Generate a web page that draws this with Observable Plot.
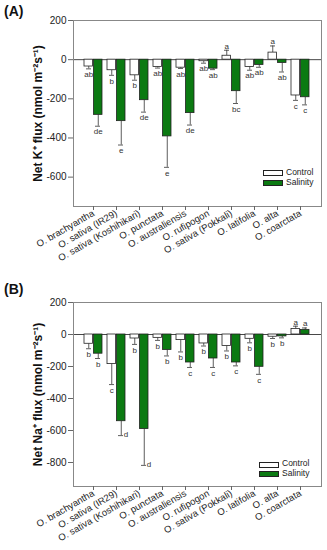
<!DOCTYPE html>
<html><head><meta charset="utf-8">
<script src="https://cdn.jsdelivr.net/npm/d3@7"></script>
<script src="https://cdn.jsdelivr.net/npm/@observablehq/plot@0.6"></script>
<style>
body{margin:0;background:#fff;font-family:"Liberation Sans",Arial,sans-serif;}
#wrap{position:relative;width:327px;height:550px;overflow:hidden;}
.panel{position:absolute;left:0;width:327px;}
.tag{position:absolute;font-weight:bold;font-size:14px;color:#111;line-height:14px;}
.lg{position:absolute;font-size:8.5px;color:#222;line-height:9px;white-space:nowrap;}
.sw{position:absolute;width:18px;height:4px;border:0.8px solid #222;}
</style></head><body><div id="wrap"></div>
<script>
const species = ["O. brachyantha","O. sativa (IR29)","O. sativa (Koshihikari)","O. punctata","O. australiensis","O. rufipogon","O. sativa (Pokkali)","O. latifolia","O. alta","O. coarctata"];
const groups = ["Control","Salinity"];

// Panel A: Net K+ flux
const kControl = [-35, -54, -80, -37, -41, -8, 20, -37, 36, -183];
const kControlErr = [12, 26, 25, 6, 4, 10, 28, 17, 34, 25];
const kControlLetters = ["ab","b","b","ab","ab","ab","a","ab","a","c"];
const kSalinity = [-282, -314, -207, -392, -273, -46, -161, -27, -17, -192];
const kSalinityErr = [58, 122, 61, 158, 61, 5, 63, 12, 46, 39];
const kSalinityLetters = ["de","e","de","e","de","ab","bc","ab","ab","c"];
const kTicks = [200, 0, -200, -400, -600];

// Panel B: Net Na+ flux
const nControl = [-58, -185, -25, -21, -35, -56, -72, -27, -14, 35];
const nControlErr = [31, 128, 37, 16, 74, 16, 31, 25, 11, 17];
const nControlLetters = ["b","c","b","b","b","b","b","b","b","a"];
const nSalinity = [-120, -542, -591, -97, -175, -150, -175, -202, -12, 29];
const nSalinityErr = [30, 90, 227, 37, 31, 56, 21, 47, 9, 12];
const nSalinityLetters = ["b","d","d","b","c","c","c","c","b","a"];
const nTicks = [200, 0, -200, -400, -600, -800];

const GREEN = "#0b7a12";
const FONT = "'Liberation Sans', Arial, sans-serif";

function rows(vals, errs, letters, group) {
  return species.map((s, i) => ({species: s, group, value: vals[i], err: errs[i], letter: letters[i],
    end: vals[i] + (vals[i] >= 0 ? 1 : -1) * errs[i]}));
}

function letterMarks(data, dx, side) {
  const key = d => d.species + "|" + d.group;
  const neg = data.filter(d => d.value < 0 && !side.has(key(d)));
  const pos = data.filter(d => d.value >= 0);
  const sd = data.filter(d => side.has(key(d)));
  const base = {x: "species", y: "end", text: "letter", fontSize: 8, fill: "#333"};
  return [
    Plot.text(neg, {...base, dx, dy: 2.5, lineAnchor: "top"}),
    Plot.text(pos, {...base, dx, dy: -1.5, lineAnchor: "bottom"}),
    Plot.text(sd, {...base, dx: dx + 2.5, dy: -1, textAnchor: "start", lineAnchor: "middle"})
  ];
}

function panel(cfg) {
  const c = rows(cfg.control, cfg.controlErr, cfg.controlLetters, "Control");
  const s = rows(cfg.salinity, cfg.salinityErr, cfg.salinityLetters, "Salinity");
  const side = new Set(cfg.sideLabels || []);
  const hb = 9.5;
  return Plot.plot({
    width: 327, height: cfg.height,
    marginLeft: 73, marginRight: 6, marginTop: cfg.marginTop, marginBottom: 64,
    style: {fontFamily: FONT, fontSize: "10px", color: "#222", background: "white"},
    x: {type: "band", domain: species, paddingInner: 0.2, paddingOuter: 0.33, label: null},
    y: {domain: cfg.yDomain, label: null},
    marks: [
      Plot.ruleY([0], {stroke: "#333", strokeWidth: 0.9}),
      Plot.ruleX(c, {x: "species", y1: "value", y2: "end", dx: -4.75, stroke: "#333", strokeWidth: 0.8}),
      Plot.tickY(c, {x: "species", y: "end", insetLeft: 2, insetRight: 11, stroke: "#333", strokeWidth: 0.8}),
      Plot.ruleX(s, {x: "species", y1: "value", y2: "end", dx: 4.75, stroke: "#333", strokeWidth: 0.8}),
      Plot.tickY(s, {x: "species", y: "end", insetLeft: 11, insetRight: 2, stroke: "#333", strokeWidth: 0.8}),
      Plot.barY(c, {x: "species", y1: 0, y2: "value", insetRight: hb, fill: "white", stroke: "#222", strokeWidth: 0.8}),
      Plot.barY(s, {x: "species", y1: 0, y2: "value", insetLeft: hb, fill: GREEN, stroke: "#222", strokeWidth: 0.8}),
      ...letterMarks(c, -4.75, side),
      ...letterMarks(s, 4.75, side),
      Plot.frame({stroke: "#888", strokeWidth: 1}),
      Plot.axisY({ticks: cfg.ticks, tickFormat: d => String(d).replace("\u2212", "-"), tickSize: 5, tickPadding: 2, fontSize: 10, label: null, stroke: "#666"}),
      Plot.axisX({tickSize: 4, tickPadding: 2, tickRotate: -30, fontSize: 9.5, label: null, stroke: "#666"}),
      Plot.text([cfg.title], {text: d => d, frameAnchor: "left", dx: -35, rotate: -90, textAnchor: "middle", lineAnchor: "middle", fontWeight: "bold", fontSize: 12, fill: "#111"})
    ]
  });
}

const wrap = document.getElementById("wrap");

function addPanel(top, cfg, tag, tagTop, legend) {
  const div = document.createElement("div");
  div.className = "panel";
  div.style.top = top + "px";
  div.appendChild(panel(cfg));
  wrap.appendChild(div);
  const t = document.createElement("div");
  t.className = "tag"; t.textContent = tag;
  t.style.left = "4px"; t.style.top = tagTop + "px";
  wrap.appendChild(t);
  groups.forEach((g, i) => {
    const sw = document.createElement("div");
    sw.className = "sw";
    sw.style.left = legend.x + "px";
    sw.style.top = (legend.y + i * legend.gap) + "px";
    sw.style.background = g === "Control" ? "white" : GREEN;
    wrap.appendChild(sw);
    const lt = document.createElement("div");
    lt.className = "lg"; lt.textContent = g;
    lt.style.left = (legend.x + 23) + "px";
    lt.style.top = (legend.y + i * legend.gap - 2.5) + "px";
    wrap.appendChild(lt);
  });
}

addPanel(0, {
  height: 270, marginTop: 20, yDomain: [-750, 200], ticks: kTicks,
  control: kControl, controlErr: kControlErr, controlLetters: kControlLetters,
  salinity: kSalinity, salinityErr: kSalinityErr, salinityLetters: kSalinityLetters,
  title: "Net K\u207A flux (nmol m\u207B\u00B2s\u207B\u00B9)"
}, "(A)", 4, {x: 263, y: 170, gap: 10});

addPanel(270, {
  height: 280, marginTop: 32, yDomain: [-950, 200], ticks: nTicks,
  control: nControl, controlErr: nControlErr, controlLetters: nControlLetters,
  salinity: nSalinity, salinityErr: nSalinityErr, salinityLetters: nSalinityLetters,
  sideLabels: ["O. sativa (IR29)|Salinity", "O. sativa (Koshihikari)|Salinity"],
  title: "Net Na\u207A flux (nmol m\u207B\u00B2s\u207B\u00B9)"
}, "(B)", 282, {x: 259, y: 461.5, gap: 9.5});
</script></body></html>
